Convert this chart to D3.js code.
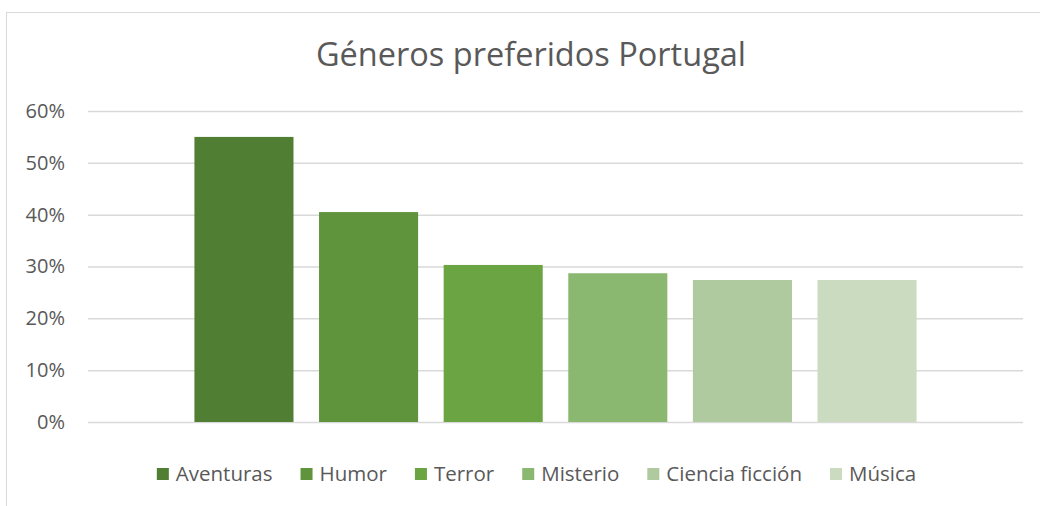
<!DOCTYPE html>
<html>
<head>
<meta charset="utf-8">
<script src="https://cdn.jsdelivr.net/npm/d3@7"></script>
<style>
  body { margin: 0; background: #fff; }
  svg text { font-family: "Open Sans", sans-serif; fill: #595959; }
</style>
</head>
<body>
<div id="chart"></div>
<script>
// chart size
var width = 1040;
var height = 506;

// data
var generos = ["Aventuras", "Humor", "Terror", "Misterio", "Ciencia ficción", "Música"];
var valores = [0.55, 0.405, 0.303, 0.287, 0.274, 0.274];
var colores = ["#507e32", "#5f943d", "#6ba443", "#8bb870", "#afca9e", "#cadbc0"];
var yTicks = [0, 0.1, 0.2, 0.3, 0.4, 0.5, 0.6];

var plot = { left: 88, right: 1023, top: 111, bottom: 422 };

var svg = d3.select("#chart")
    .append("svg")
    .attr("width", width)
    .attr("height", height);

// chart area border (runs off the right and bottom edge like the original)
svg.append("rect")
    .attr("x", 6.5)
    .attr("y", 12.5)
    .attr("width", width + 20)
    .attr("height", height + 20)
    .style("fill", "none")
    .style("stroke", "#d9d9d9")
    .style("stroke-width", 1);

// title
svg.append("text")
    .attr("x", 531)
    .attr("y", 66)
    .attr("text-anchor", "middle")
    .style("font-size", "32.5px")
    .text("Géneros preferidos Portugal");

var x = d3.scaleBand()
    .domain(generos)
    .range([plot.left, plot.right])
    .paddingInner(0.205)
    .paddingOuter(0.854);

var y = d3.scaleLinear()
    .domain([0, 0.6])
    .range([plot.bottom, plot.top]);

// gridlines + tick labels
var yAxis = d3.axisLeft(y)
    .tickValues(yTicks)
    .tickFormat(d3.format(".0%"))
    .tickSize(-(plot.right - plot.left))
    .tickPadding(23);

var gy = svg.append("g")
    .attr("transform", "translate(" + plot.left + ",0)")
    .call(yAxis);
gy.select(".domain").remove();
gy.selectAll(".tick line")
    .style("stroke", "#d9d9d9")
    .style("stroke-width", 1.5);
gy.selectAll(".tick text")
    .style("font-size", "20px")
    .style("font-family", "'Open Sans', sans-serif")
    .style("fill", "#595959");

// bars
svg.selectAll(".bar")
    .data(generos)
    .enter().append("rect")
    .attr("class", "bar")
    .attr("x", function(d) { return x(d); })
    .attr("width", x.bandwidth())
    .attr("y", function(d, i) { return y(valores[i]); })
    .attr("height", function(d, i) { return y(0) - y(valores[i]); })
    .style("fill", function(d, i) { return colores[i]; });

// legend
var legend = svg.append("g");
var items = legend.selectAll(".item")
    .data(generos)
    .enter().append("g")
    .attr("class", "item");

items.append("rect")
    .attr("width", 12)
    .attr("height", 12)
    .attr("y", 468)
    .style("fill", function(d, i) { return colores[i]; });

items.append("text")
    .attr("x", 19)
    .attr("y", 481)
    .style("font-size", "20.5px")
    .text(function(d) { return d; });

// lay items out side by side, centred like the reference
var gap = 28;
var widths = [];
items.each(function() {
    widths.push(19 + d3.select(this).select("text").node().getComputedTextLength());
});
var total = d3.sum(widths) + gap * (widths.length - 1);
var cx = 536.5 - total / 2;
items.attr("transform", function(d, i) {
    var pos = cx;
    cx += widths[i] + gap;
    return "translate(" + pos + ",0)";
});
</script>
</body>
</html>
